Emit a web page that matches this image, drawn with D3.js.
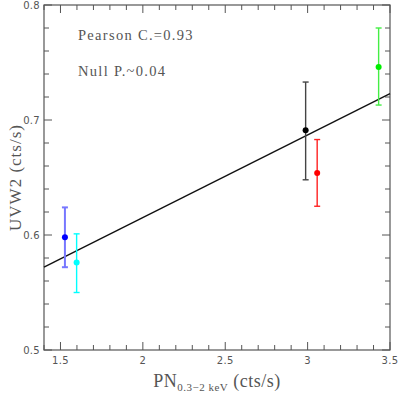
<!DOCTYPE html>
<html lang="en">
<head>
<meta charset="utf-8">
<title>UVW2 vs PN</title>
<script src="https://cdn.jsdelivr.net/npm/d3@7"></script>
<style>
    body { margin: 0; background: #fff; }
    .ticklabel { font-family: "DejaVu Sans", sans-serif; font-size: 10px; fill: #555; letter-spacing: 0.3px; }
    .title { font-family: "Liberation Serif", serif; fill: #555; }
</style>
</head>
<body>
<div id="chart"></div>
<script>
// data
const pn    = [1.527, 1.598, 2.988, 3.058, 3.431];
const uvw2  = [0.598, 0.576, 0.691, 0.654, 0.746];
const errLo = [0.572, 0.550, 0.648, 0.625, 0.713];
const errHi = [0.624, 0.601, 0.733, 0.683, 0.780];
const pointColours = ["#0000ff", "#00ffff", "#000000", "#ff0000", "#00ee00"];
const barColours   = ["#7777ff", "#00ffff", "#444444", "#ff2222", "#44ee44"];
const fitX = [1.4, 3.5];
const fitY = [0.572, 0.723];
const xTicks = [1.5, 2, 2.5, 3, 3.5];
const yTicks = [0.5, 0.6, 0.7, 0.8];
const notes = ["Pearson C.=0.93", "Null P.~0.04"];

const WIDTH = 399, HEIGHT = 393,
      MARGIN = {top: 5, right: 9, bottom: 43, left: 44};

let svg = d3.select("#chart").append("svg")
    .attr("width", WIDTH).attr("height", HEIGHT);

let xScale = d3.scaleLinear().domain([1.4, 3.5])
    .range([MARGIN.left, WIDTH - MARGIN.right]);
let yScale = d3.scaleLinear().domain([0.5, 0.8])
    .range([HEIGHT - MARGIN.bottom, MARGIN.top]);

let xMinor = d3.range(1.4, 3.5001, 0.1).map(d => +d.toFixed(2));
let yMinor = d3.range(0.5, 0.8001, 0.02).map(d => +d.toFixed(2));
let isMajor = (v, step) => Math.abs(v / step - Math.round(v / step)) < 1e-6;

// frame
svg.append("rect")
    .attr("x", MARGIN.left).attr("y", MARGIN.top)
    .attr("width", xScale.range()[1] - MARGIN.left)
    .attr("height", yScale.range()[0] - MARGIN.top)
    .attr("fill", "none").attr("stroke", "#555").attr("stroke-width", 1.2);

// ticks on all four sides, pointing inward
let yBot = yScale.range()[0], yTop = MARGIN.top;
let xLeft = MARGIN.left, xRight = xScale.range()[1];
xMinor.forEach(v => {
    let len = isMajor(v, 0.5) ? 8 : 5;
    let x = xScale(v);
    svg.append("line").attr("x1", x).attr("x2", x).attr("y1", yBot).attr("y2", yBot - len)
        .attr("stroke", "#555");
    svg.append("line").attr("x1", x).attr("x2", x).attr("y1", yTop).attr("y2", yTop + len)
        .attr("stroke", "#555");
});
yMinor.forEach(v => {
    let len = isMajor(v, 0.1) ? 8 : 5;
    let y = yScale(v);
    svg.append("line").attr("x1", xLeft).attr("x2", xLeft + len).attr("y1", y).attr("y2", y)
        .attr("stroke", "#555");
    svg.append("line").attr("x1", xRight).attr("x2", xRight - len).attr("y1", y).attr("y2", y)
        .attr("stroke", "#555");
});

svg.selectAll(".xlab").data(xTicks).enter().append("text")
    .attr("class", "ticklabel")
    .attr("x", d => xScale(d)).attr("y", yBot + 14)
    .attr("text-anchor", "middle")
    .text(d => d);

svg.selectAll(".ylab").data(yTicks).enter().append("text")
    .attr("class", "ticklabel")
    .attr("x", xLeft - 4).attr("y", d => yScale(d) + 4)
    .attr("text-anchor", "end")
    .text(d => d.toFixed(1));

// axis titles
let xMid = (xLeft + xRight) / 2, yMid = (yTop + yBot) / 2;
let xt = svg.append("text").attr("class", "title")
    .attr("x", xMid).attr("y", 387).attr("font-size", "18px")
    .attr("text-anchor", "middle").style("letter-spacing", "0.5px");
xt.append("tspan").text("PN");
xt.append("tspan").attr("font-size", "11px").attr("dy", 4).text("0.3\u22122 keV");
xt.append("tspan").attr("dy", -4).text(" (cts/s)");

svg.append("text").attr("class", "title")
    .attr("transform", "translate(21," + yMid + ") rotate(-90)")
    .attr("text-anchor", "middle").attr("font-size", "17px")
    .style("letter-spacing", "1px")
    .text("UVW2 (cts/s)");

// notes
svg.selectAll(".note").data(notes).enter().append("text")
    .attr("class", "title")
    .attr("x", 78).attr("y", (d, i) => 40 + i * 36)
    .attr("font-size", "14.5px")
    .style("letter-spacing", "1.3px")
    .text(d => d);

// fit line
svg.append("line")
    .attr("x1", xScale(fitX[0])).attr("y1", yScale(fitY[0]))
    .attr("x2", xScale(fitX[1])).attr("y2", yScale(fitY[1]))
    .attr("stroke", "#111").attr("stroke-width", 1.4);

// error bars
let cap = 3;
pn.forEach((x, i) => {
    let g = svg.append("g").attr("stroke", barColours[i])
        .attr("stroke-width", i == 0 ? 2 : 1.4);
    let px = xScale(x);
    g.append("line").attr("x1", px).attr("x2", px)
        .attr("y1", yScale(errLo[i])).attr("y2", yScale(errHi[i]));
    g.append("line").attr("x1", px - cap).attr("x2", px + cap)
        .attr("y1", yScale(errLo[i])).attr("y2", yScale(errLo[i]));
    g.append("line").attr("x1", px - cap).attr("x2", px + cap)
        .attr("y1", yScale(errHi[i])).attr("y2", yScale(errHi[i]));
    svg.append("circle").attr("cx", px).attr("cy", yScale(uvw2[i]))
        .attr("r", 3).attr("fill", pointColours[i]);
});
</script>
</body>
</html>
